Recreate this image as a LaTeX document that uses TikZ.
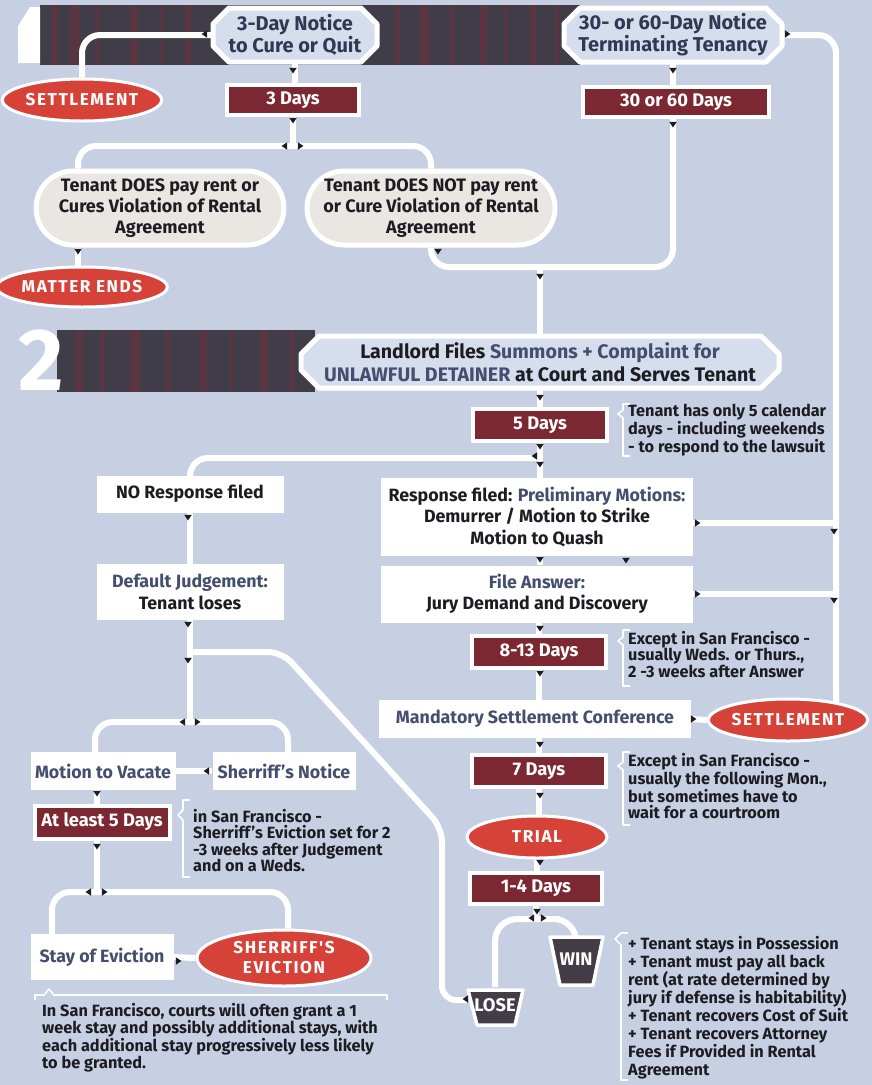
\documentclass[tikz,border=0pt]{standalone}
\usepackage{fontspec}
\setmainfont{Fira Sans}
\newfontfamily\spacedfont{Fira Sans}[LetterSpace=9]
\usetikzlibrary{shapes.misc,shapes.geometric,arrows.meta}
\pgfdeclarelayer{back}
\pgfdeclarelayer{wires}
\pgfsetlayers{back,wires,main}
\definecolor{bg}{RGB}{198,208,226}
\definecolor{banner}{RGB}{64,60,72}
\definecolor{bannerred}{RGB}{112,48,60}
\definecolor{notefill}{RGB}{214,221,236}
\definecolor{navy}{RGB}{50,56,84}
\definecolor{tenfill}{RGB}{234,230,226}
\definecolor{dayred}{RGB}{124,40,50}
\definecolor{ellred}{RGB}{214,66,56}
\definecolor{ink}{RGB}{28,28,34}
\definecolor{slate}{RGB}{68,78,110}
\definecolor{trap}{RGB}{68,60,70}
\newcommand\fnotice{\fontsize{20}{22}\selectfont\bfseries}
\newcommand\ften{\fontsize{18}{21}\selectfont\bfseries}
\newcommand\fwb{\fontsize{17.8}{21.3}\selectfont\bfseries}
\newcommand\fday{\fontsize{18.3}{20}\selectfont\bfseries}
\newcommand\fnote{\fontsize{16.3}{16.5}\selectfont\bfseries}
\newcommand\fell{\spacedfont\fontsize{17.2}{20}\selectfont\bfseries}
\newcommand\amark[3]{\fill[ink, shift={(#1,#2)}, rotate=#3] (-3.8,-2.2) -- (3.8,-2.2) -- (0,3.4) -- cycle;}
\newcommand\chamf[5]{\filldraw[fill=notefill, draw=white, line width=5pt, line join=round]
 ({#1-#3/2+#5},{#2-#4/2}) -- ({#1+#3/2-#5},{#2-#4/2}) -- ({#1+#3/2},{#2-#4/2+#5}) --
 ({#1+#3/2},{#2+#4/2-#5}) -- ({#1+#3/2-#5},{#2+#4/2}) -- ({#1-#3/2+#5},{#2+#4/2}) --
 ({#1-#3/2},{#2+#4/2-#5}) -- ({#1-#3/2},{#2-#4/2+#5}) -- cycle;}
\begin{document}
\begin{tikzpicture}[x=1pt,y=-1pt,
  wire/.style={draw=white, line width=6pt, rounded corners=14pt},
  thinline/.style={draw=white, line width=1.6pt, line join=round},
  wbox/.style={fill=white, inner sep=0pt, align=center, text=ink, font=\fwb},
  daybox/.style={fill=dayred, draw=white, line width=4pt, text=white, font=\fday, inner sep=0pt},
  redell/.style={ellipse, fill=ellred, draw=white, line width=3pt, text=white, font=\fell, inner sep=0pt, align=center},
  tenbox/.style={rounded rectangle, fill=tenfill, draw=white, line width=5pt, align=center, font=\ften, text=ink, inner sep=0pt},
  notebox/.style={inner sep=0pt, text=navy, font=\fnotice, align=center},
  notetext/.style={anchor=north west, inner sep=0pt, align=left, font=\fnote, text=ink},
  trapfill/.style={fill=trap, draw=white, line width=3.5pt, line join=round},
  traptext/.style={text=white, font=\fday, inner sep=0pt}]
\useasboundingbox (0,0) rectangle (872,1085);
\begin{pgfonlayer}{back}
\fill[bg] (0,0) rectangle (872,1085);
\fill[banner] (40,5) rectangle (580,65);
\foreach \x/\w in {52/6,70/10,95/4,130/8,160/3,185/6,395/5,420/9,450/4,480/7,505/3,530/6,555/4}
  \fill[bannerred,opacity=.55] (\x,5) rectangle ++(\w,60);
\fill[banner] (57,330) rectangle (315,392);
\foreach \x/\w in {75/8,100/4,130/10,165/5,200/7,230/3,260/8,290/4}
  \fill[bannerred,opacity=.55] (\x,330) rectangle ++(\w,62);
\fill[white] (18,63) -- (18,26) -- (30,7) -- (40,7) -- (40,63) -- cycle;
\end{pgfonlayer}
\node[text=white, inner sep=0pt, font=\fontsize{88}{88}\selectfont\bfseries] (two) at (41,360) {2};
% chamfered boxes
\chamf{295}{35}{164}{54}{16}
\chamf{673}{35}{218}{54}{16}
\chamf{540}{362}{478}{52}{18}
\node[notebox, minimum width=164pt, minimum height=54pt] (n3) at (295,35) {3-Day Notice\\to Cure or Quit};
\node[notebox, minimum width=218pt, minimum height=54pt] (n30) at (673,35) {30- or 60-Day Notice\\Terminating Tenancy};
\node[notebox, text=ink, font=\fontsize{19.6}{23}\selectfont\bfseries, minimum width=478pt, minimum height=52pt] (landlord) at (540,362)
  {Landlord Files \textcolor{slate}{Summons + Complaint for}\\\textcolor{slate}{UNLAWFUL DETAINER} at Court and Serves Tenant};
% day boxes
\node[daybox, minimum width=132pt, minimum height=30pt] (d3) at (293,100) {3 Days};
\node[daybox, minimum width=186pt, minimum height=30pt] (d30) at (676,102) {30 or 60 Days};
\node[daybox, minimum width=134pt, minimum height=32pt] (d5) at (540,425) {5 Days};
\node[daybox, minimum width=134pt, minimum height=32pt] (d813) at (539,652) {8-13 Days};
\node[daybox, minimum width=134pt, minimum height=32pt] (d7) at (539,771) {7 Days};
\node[daybox, minimum width=132pt, minimum height=31pt] (d14) at (536,888) {1-4 Days};
\node[daybox, minimum width=135pt, minimum height=33pt] (d5b) at (102,822) {At least 5 Days};
% ellipses
\node[redell, minimum width=146pt, minimum height=42pt] (set1) at (82,100) {SETTLEMENT};
\node[redell, minimum width=146pt, minimum height=40pt] (mend) at (82,287) {MATTER ENDS};
\node[redell, minimum width=146pt, minimum height=42pt] (set2) at (788,720) {SETTLEMENT};
\node[redell, minimum width=140pt, minimum height=42pt] (trial) at (537,837) {TRIAL};
\node[redell, minimum width=174pt, minimum height=56pt] (sev) at (284,958) {SHERRIFF'S\\EVICTION};
% tenant boxes
\node[tenbox, minimum width=248pt, minimum height=74pt] (tpay) at (160,208) {Tenant DOES pay rent or\\Cures Violation of Rental\\Agreement};
\node[tenbox, minimum width=248pt, minimum height=74pt] (tnot) at (431,208) {Tenant DOES NOT pay rent\\or Cure Violation of Rental\\Agreement};
% white boxes
\node[wbox, minimum width=187pt, minimum height=37pt] (nores) at (190,494) {NO Response filed};
\node[wbox, minimum width=187pt, minimum height=56pt] (defj) at (190,592) {\textcolor{slate}{Default Judgement:}\\Tenant loses};
\node[wbox, minimum width=312pt, minimum height=78pt] (resp) at (537,517) {Response filed: \textcolor{slate}{Preliminary Motions:}\\Demurrer / Motion to Strike\\Motion to Quash};
\node[wbox, minimum width=312pt, minimum height=57pt] (fans) at (537,594) {\textcolor{slate}{File Answer:}\\Jury Demand and Discovery};
\node[wbox, text=slate, minimum width=312pt, minimum height=38pt] (msc) at (535,719) {Mandatory Settlement Conference};
\node[wbox, text=slate, minimum width=145pt, minimum height=38pt] (mtv) at (103,771) {Motion to Vacate};
\node[wbox, text=slate, minimum width=143pt, minimum height=38pt] (shn) at (284,771) {Sherriff's Notice};
\node[wbox, text=slate, minimum width=143pt, minimum height=46pt] (stay) at (102,957) {Stay of Eviction};
% win / lose
\filldraw[trapfill] (550,937) -- (603,937) -- (593,985) -- (560,985) -- cycle;
\filldraw[trapfill] (468,990) -- (523,990) -- (515,1025) -- (477,1025) -- cycle;
\node[traptext, minimum width=54pt, minimum height=48pt] (win) at (576,959) {WIN};
\node[traptext, minimum width=56pt, minimum height=36pt] (lose) at (495,1005) {LOSE};
% notes
\node[notetext] (note5) at (628,404) {Tenant has only 5 calendar\\days - including weekends\\- to respond to the lawsuit};
\node[notetext] (note813) at (628,631) {Except in San Francisco -\\usually Weds. or Thurs.,\\2 -3 weeks after Answer};
\node[notetext] (note7) at (628,753) {Except in San Francisco -\\usually the following Mon.,\\but sometimes have to\\wait for a courtroom};
\node[notetext, font=\fontsize{16.3}{18}\selectfont\bfseries] (notewin) at (628,936) {+ Tenant stays in Possession\\+ Tenant must pay all back\\rent (at rate determined by\\jury if defense is habitability)\\+ Tenant recovers Cost of Suit\\+ Tenant recovers Attorney\\Fees if Provided in Rental\\Agreement};
\node[notetext] (notesf) at (193,809) {in San Francisco -\\Sherriff's Eviction set for 2\\-3 weeks after Judgement\\and on a Weds.};
\node[notetext, font=\fontsize{16.3}{17.5}\selectfont\bfseries] (notestay) at (42,1003) {In San Francisco, courts will often grant a 1\\week stay and possibly additional stays, with\\each additional stay progressively less likely\\to be granted.};
% connectors
\coordinate (sp1) at (293,146);
\coordinate (m1) at (540,267);
\coordinate (rt) at (836,708);
\coordinate (sp2) at (540,458);
\coordinate (sp3) at (537,919);
\coordinate (sp4) at (190,722);
\coordinate (j1) at (190,652);
\coordinate (dg1) at (442,828);
\coordinate (dg2) at (282,652);
\coordinate (sp5) at (97,892);
\begin{pgfonlayer}{wires}
\draw[wire, rounded corners=18pt] (n3.west) -| (set1.north);
\draw[wire] (n3.south) -- (n3.south |- d3.north);
\draw[wire] (d3.south) -- (sp1);
\draw[wire, rounded corners=18pt] ([xshift=-82pt]tpay.north) |- (sp1) -| (tnot.north);
\draw[wire] ([xshift=-82pt]tpay.south) -- ([xshift=-82pt]tpay.south |- mend.north);
\draw[wire, rounded corners=18pt] (tnot.south) |- (m1) -| (d30.south -| n30.south);
\draw[wire] (n30.south) -- (n30.south |- d30.north);
\draw[wire] (m1) -- (m1 |- landlord.north);
\draw[wire, rounded corners=18pt] (n30.east) -| (rt);
\draw[wire] ([yshift=-6pt]resp.east) -- ([yshift=-6pt]resp.east -| rt);
\draw[wire] (fans.east) -- (fans.east -| rt);
\draw[wire] (landlord.south) -- (landlord.south |- d5.north);
\draw[wire] (d5.south) -- (d5.south |- resp.north);
\draw[wire, rounded corners=18pt] (sp2) -| (nores.north);
\draw[wire] (nores.south) -- (defj.north);
\draw[wire] (resp.south -| d5.south) -- (fans.north -| d5.south);
\draw[wire] (fans.south -| d813.north) -- (d813.north);
\draw[wire] (d813.south) -- (d813.south |- msc.north);
\draw[wire] (msc.east) -- (set2.west);
\draw[wire] (msc.south -| d7.north) -- (d7.north);
\draw[wire] (d7.south) -- (d7.south |- trial.north);
\draw[wire] (trial.south) -- (trial.south |- d14.north);
\draw[wire] (d14.south) -- (d14.south |- sp3);
\draw[wire, rounded corners=22pt] (lose.north) |- (sp3) -| (win.north);
\draw[wire] (defj.south) -- (sp4);
\draw[wire, rounded corners=18pt] ([xshift=-8pt]mtv.north) |- (sp4) -| ([xshift=4pt]shn.north);
\draw[wire] ([yshift=5pt]lose.west) -| (dg1) -- (dg2) -- (j1);
\draw[wire] (shn.west) -- (mtv.east);
\draw[wire] ([xshift=-6pt]mtv.south) -- ([xshift=-6pt]mtv.south |- d5b.north);
\draw[wire] ([xshift=-5pt]d5b.south) -- (sp5);
\draw[wire, rounded corners=18pt] ([xshift=-50pt]stay.north) |- (sp5) -| ([xshift=4pt]sev.north);
\draw[wire] (stay.east) -- (sev.west);
\end{pgfonlayer}
% brackets
\draw[thinline] (630,404) -- (623,404) -- (623,410) -- (618,414) -- (623,418) -- (623,456) -- (630,456);
\draw[thinline] (630,630) -- (623,630) -- (623,637) -- (618,641) -- (623,645) -- (623,686) -- (630,686);
\draw[thinline] (630,752) -- (623,752) -- (623,762) -- (618,766) -- (623,770) -- (623,825) -- (630,825);
\draw[thinline] (628,933) -- (621,933) -- (615,939) -- (621,945) -- (621,1080) -- (628,1080);
\draw[thinline] (190,800) -- (183,800) -- (183,810) -- (178,815) -- (183,820) -- (183,877) -- (190,877);
\draw[thinline] (35,1000) -- (35,995) -- (44,995) -- (49,989) -- (54,995) -- (387,995) -- (387,1000);
% arrow marks
\amark{205}{34}{-90}
\amark{293}{70}{0}
\amark{293}{120}{0}
\amark{285}{146}{-90}
\amark{300}{146}{90}
\amark{78}{251}{0}
\amark{438}{251}{0}
\amark{673}{70}{0}
\amark{673}{124}{0}
\amark{540}{276}{0}
\amark{787}{34}{90}
\amark{540}{397}{0}
\amark{540}{446}{0}
\amark{535}{456}{-90}
\amark{540}{464}{0}
\amark{188}{517}{0}
\amark{188}{624}{0}
\amark{188}{660}{0}
\amark{183}{722}{-90}
\amark{197}{722}{90}
\amark{207}{771}{-90}
\amark{97}{793}{0}
\amark{97}{846}{0}
\amark{89}{892}{-90}
\amark{104}{892}{90}
\amark{178}{961}{90}
\amark{697}{523}{90}
\amark{834}{531}{0}
\amark{697}{594}{90}
\amark{834}{600}{0}
\amark{540}{559}{0}
\amark{626}{560}{0}
\amark{540}{628}{0}
\amark{540}{673}{0}
\amark{693}{719}{90}
\amark{540}{744}{0}
\amark{540}{795}{0}
\amark{540}{862}{0}
\amark{537}{911}{0}
\amark{532}{918}{-90}
\amark{543}{918}{90}
\amark{466}{999}{-90}
\end{tikzpicture}
\end{document}
